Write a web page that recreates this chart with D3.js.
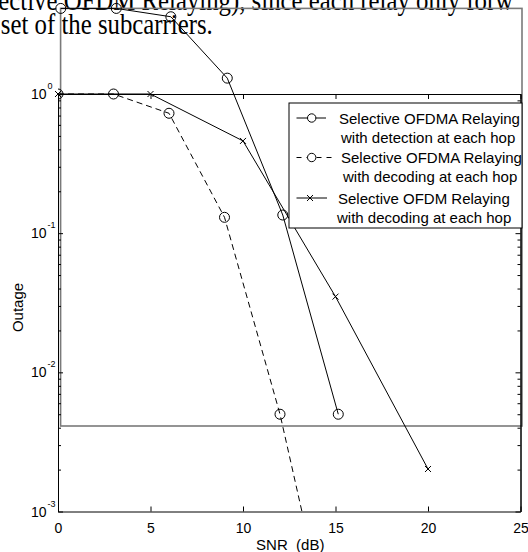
<!DOCTYPE html>
<html>
<head>
<meta charset="utf-8">
<script src="https://cdn.jsdelivr.net/npm/d3@7"></script>
<style>
  html, body { margin: 0; padding: 0; background: #fff; }
  svg { display: block; }
</style>
</head>
<body>
<script>
// ---------------- data ----------------
const xTicks = [0, 5, 10, 15, 20, 25];
const yTickExps = [0, -1, -2, -3];
const xLabel = "SNR  (dB)";
const yLabel = "Outage";
const topTextLines = ["ective OFDM Relaying), since each relay only forw", "set of the subcarriers."];

const seriesNames = [
  ["Selective OFDMA Relaying", "with detection at each hop"],
  ["Selective OFDMA Relaying", "with decoding at each hop"],
  ["Selective OFDM Relaying", "with decoding at each hop"]
];
// Selective OFDMA relaying, detection (shifted overlay trace)
const detSNR = [0.15, 3.15, 6.1, 9.15, 12.15, 15.15];
const detOut = [4.12, 4.12, 3.59, 1.30, 0.135, 0.0050];
// Selective OFDMA relaying, decoding (dashed)
const decSNR = [0, 3, 6, 9, 12, 15];
const decOut = [1.0, 1.0, 0.727, 0.130, 0.0050, 0.000085];
// Selective OFDM relaying, decoding (x markers)
const ofdmSNR = [0, 5, 10, 15, 20];
const ofdmOut = [1.0, 1.0, 0.46, 0.035, 0.00202];

// ---------------- layout ----------------
const W = 528, H = 552;
const L = 58, R = 520.5, T = 94, B = 511.5;
const sans = "'Liberation Sans', Arial, sans-serif";
const serif = "'Liberation Serif', 'Times New Roman', serif";

const svg = d3.select("body").append("svg").attr("width", W).attr("height", H);

const x = d3.scaleLinear().domain([0, 25]).range([L, R]);
const y = d3.scaleLog().domain([1e-3, 1]).range([B, T]);

// top text (scan fragment)
const tt = svg.append("g").attr("transform", "scale(0.855,1)");
tt.selectAll("text").data(topTextLines).join("text")
  .attr("x", (d, i) => i === 0 ? -2 : 1)
  .attr("y", (d, i) => i === 0 ? 10 : 33.7)
  .attr("font-family", serif)
  .attr("font-size", 29)
  .attr("fill", "#000")
  .text(d => d);

// gray overlay frame
svg.append("rect")
  .attr("x", 60.6).attr("y", 8.4)
  .attr("width", 522 - 60.6).attr("height", 426 - 8.4)
  .attr("fill", "none").attr("stroke", "#7a7a7a").attr("stroke-width", 1.6);

// axes
const majors = yTickExps.map(e => Math.pow(10, e));
const minors = [];
[-3, -2, -1].forEach(e => { for (let k = 2; k <= 9; k++) minors.push(k * Math.pow(10, e)); });

function styleAxis(g) {
  g.selectAll("path.domain").attr("stroke", "#000").attr("stroke-width", 1);
  g.selectAll(".tick line").attr("stroke", "#000").attr("stroke-width", 1);
}

const gx = svg.append("g").attr("transform", `translate(0,${B})`)
  .call(d3.axisBottom(x).tickValues(xTicks).tickSize(-5).tickSizeOuter(0).tickPadding(11.5).tickFormat(d3.format("d")));
gx.selectAll("text").attr("font-family", sans).attr("font-size", 14).attr("fill", "#000");
styleAxis(gx);

const gxt = svg.append("g").attr("transform", `translate(0,${T})`)
  .call(d3.axisTop(x).tickValues(xTicks).tickSize(-5).tickSizeOuter(0).tickFormat(""));
styleAxis(gxt);

const gy = svg.append("g").attr("transform", `translate(${L},0)`)
  .call(d3.axisLeft(y).tickValues(majors).tickSize(-5).tickSizeOuter(0).tickFormat(""));
styleAxis(gy);
const gym = svg.append("g").attr("transform", `translate(${L},0)`)
  .call(d3.axisLeft(y).tickValues(minors).tickSize(-3).tickSizeOuter(0).tickFormat(""));
styleAxis(gym);

const gyr = svg.append("g").attr("transform", `translate(${R},0)`)
  .call(d3.axisRight(y).tickValues(majors).tickSize(-5).tickSizeOuter(0).tickFormat(""));
styleAxis(gyr);
const gyrm = svg.append("g").attr("transform", `translate(${R},0)`)
  .call(d3.axisRight(y).tickValues(minors).tickSize(-3).tickSizeOuter(0).tickFormat(""));
styleAxis(gyrm);

// y tick labels 10^n
const yl = svg.append("g").selectAll("g").data(yTickExps).join("g");
yl.append("text")
  .attr("x", 46.5).attr("y", d => y(Math.pow(10, d)) + 5)
  .attr("text-anchor", "end")
  .attr("font-family", sans).attr("font-size", 14).attr("fill", "#000")
  .text("10");
yl.append("text")
  .attr("x", 47.5).attr("y", d => y(Math.pow(10, d)) - 5)
  .attr("font-family", sans).attr("font-size", 9).attr("fill", "#000")
  .text(d => d3.format("d")(d).replace("−", "-"));

// axis labels
svg.append("text")
  .attr("x", (L + R) / 2 + 1).attr("y", 550)
  .attr("text-anchor", "middle")
  .attr("font-family", sans).attr("font-size", 15).attr("fill", "#000")
  .attr("xml:space", "preserve").style("white-space", "pre")
  .text(xLabel);
svg.append("text")
  .attr("transform", `translate(22.5,${307.5}) rotate(-90)`)
  .attr("text-anchor", "middle")
  .attr("font-family", sans).attr("font-size", 15).attr("fill", "#000")
  .text(yLabel);

// clip for plot area (used by the dashed series)
svg.append("clipPath").attr("id", "plotclip")
  .append("rect").attr("x", L).attr("y", 0).attr("width", R - L).attr("height", B);

const line = d3.line().x(d => x(d[0])).y(d => y(d[1]));

const det = detSNR.map((s, i) => [s, detOut[i]]);
const dec = decSNR.map((s, i) => [s, decOut[i]]);
const ofdm = ofdmSNR.map((s, i) => [s, ofdmOut[i]]);

function circles(g, data, r) {
  g.selectAll("circle.m").data(data).join("circle").attr("class", "m")
    .attr("cx", d => x(d[0])).attr("cy", d => y(d[1])).attr("r", r)
    .attr("fill", "none").attr("stroke", "#000").attr("stroke-width", 1);
}
function crosses(g, data, s) {
  g.selectAll("path.m").data(data).join("path").attr("class", "m")
    .attr("d", d => {
      const cx = x(d[0]), cy = y(d[1]);
      return `M${cx - s},${cy - s}L${cx + s},${cy + s}M${cx - s},${cy + s}L${cx + s},${cy - s}`;
    })
    .attr("fill", "none").attr("stroke", "#000").attr("stroke-width", 1);
}

// series 3 (OFDM)
const g3 = svg.append("g");
g3.append("path").datum(ofdm).attr("d", line).attr("fill", "none").attr("stroke", "#000").attr("stroke-width", 1);
crosses(g3, ofdm, 3);

// series 2 (dashed)
const g2 = svg.append("g").attr("clip-path", "url(#plotclip)");
g2.append("path").datum(dec).attr("d", line).attr("fill", "none").attr("stroke", "#000")
  .attr("stroke-width", 1).attr("stroke-dasharray", "6,4");
circles(g2, dec, 5);

// series 1 (detection)
const g1 = svg.append("g");
g1.append("path").datum(det).attr("d", line).attr("fill", "none").attr("stroke", "#000").attr("stroke-width", 1);
circles(g1, det, 5);

// legend
const lg = svg.append("g");
lg.append("rect").attr("x", 289).attr("y", 103).attr("width", 233).attr("height", 125)
  .attr("fill", "#fff").attr("stroke", "#000").attr("stroke-width", 1);

const legRowY = [118, 157.5, 198];
const legTextX = [[339, 341], [341, 343], [338, 337]];
const legTextY = [[124, 143], [163, 182], [203.5, 222.5]];
const legDash = [null, "5,5", null];
const legMarker = ["circle", "circle", "cross"];
const legLineEnd = [326, 335, 327];

const rows = lg.selectAll("g.row").data(seriesNames).join("g").attr("class", "row");
rows.append("line")
  .attr("x1", 296.5).attr("x2", (d, i) => legLineEnd[i])
  .attr("y1", (d, i) => legRowY[i]).attr("y2", (d, i) => legRowY[i])
  .attr("stroke", "#000").attr("stroke-width", 1)
  .attr("stroke-dasharray", (d, i) => legDash[i]);
rows.each(function (d, i) {
  const g = d3.select(this);
  const cy = legRowY[i];
  if (legMarker[i] === "circle") {
    g.append("circle").attr("cx", 311.7).attr("cy", cy).attr("r", 4.2)
      .attr("fill", "#fff").attr("stroke", "#000").attr("stroke-width", 1);
  } else {
    const cx = 310, s = 3;
    g.append("path").attr("d", `M${cx - s},${cy - s}L${cx + s},${cy + s}M${cx - s},${cy + s}L${cx + s},${cy - s}`)
      .attr("stroke", "#000").attr("stroke-width", 1);
  }
  g.selectAll("text").data(d).join("text")
    .attr("x", (t, j) => legTextX[i][j]).attr("y", (t, j) => legTextY[i][j])
    .attr("font-family", sans).attr("font-size", 15).attr("fill", "#000")
    .text(t => t);
});
</script>
</body>
</html>
